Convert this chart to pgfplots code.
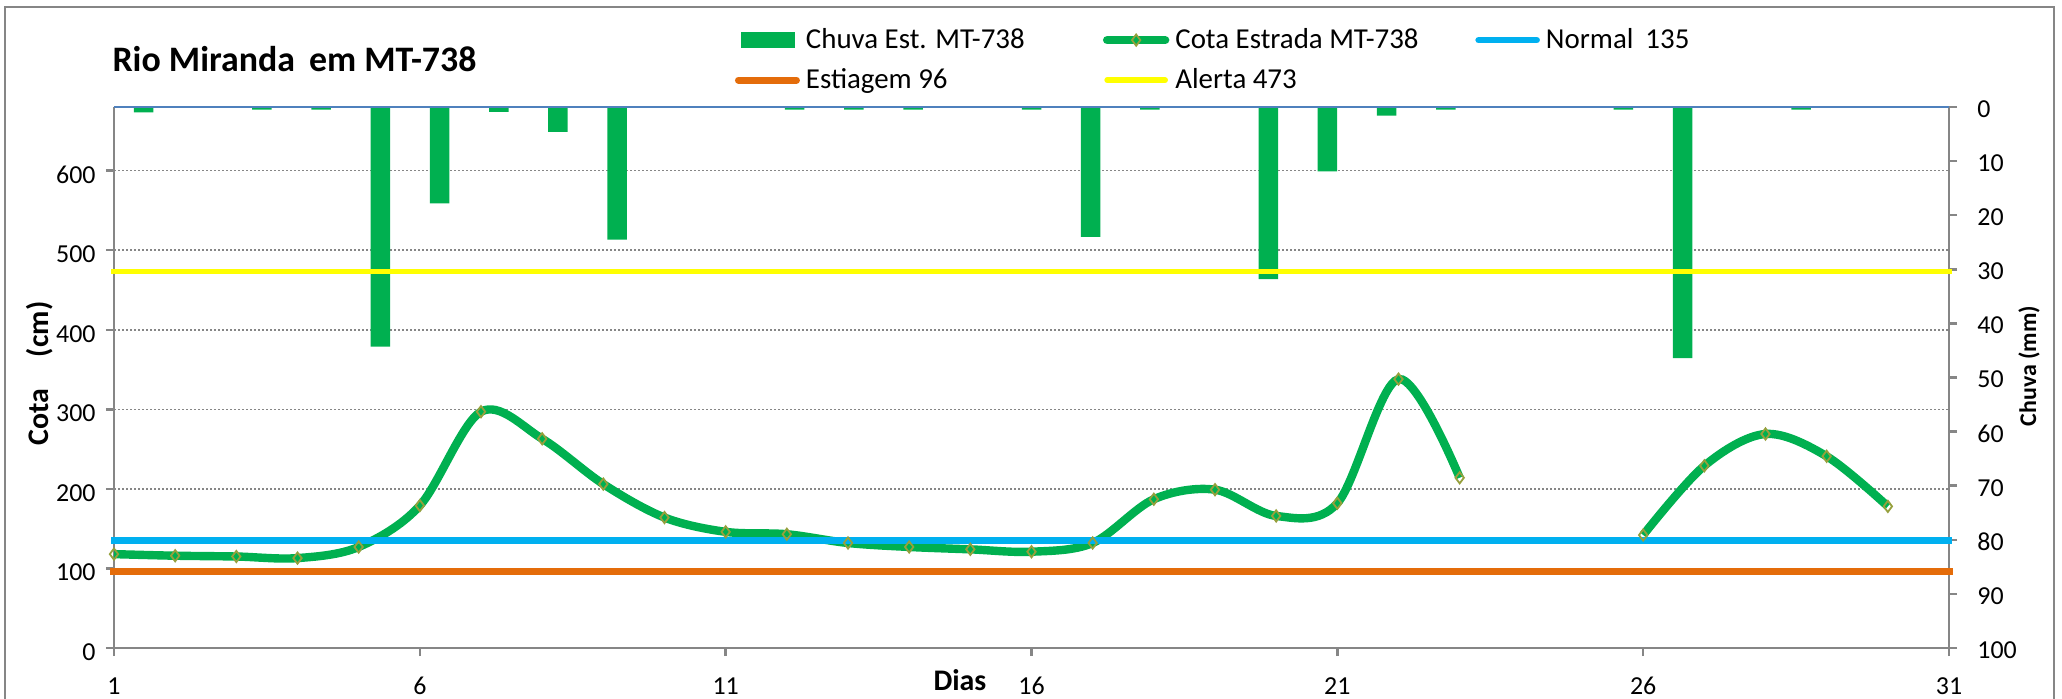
\documentclass[border=0pt]{standalone}
\usepackage{pgfplots}
\usepackage{pgfplotstable}
\pgfplotsset{compat=1.18}
\usepackage{fontspec}
\setmainfont{Carlito}
\definecolor{bargreen}{RGB}{0,176,80}
\definecolor{linegreen}{RGB}{0,176,80}
\definecolor{normblue}{RGB}{0,176,240}
\definecolor{estorange}{RGB}{228,108,10}
\definecolor{alertyellow}{RGB}{255,255,0}
\definecolor{axisgray}{RGB}{134,134,134}
\definecolor{topblue}{RGB}{79,129,189}
\definecolor{markolive}{RGB}{150,160,60}

\pgfplotstableread{
pos chuva
0.5 1.0
1.5 0
2.5 0.5
3.5 0.5
4.5 44.3
5.5 17.8
6.5 0.9
7.5 4.6
8.5 24.5
9.5 0
10.5 0
11.5 0.5
12.5 0.5
13.5 0.5
14.5 0
15.5 0.5
16.5 24.0
17.5 0.5
18.5 0
19.5 31.8
20.5 11.9
21.5 1.6
22.5 0.5
23.5 0
24.5 0
25.5 0.5
26.5 46.4
27.5 0
28.5 0.5
29.5 0
30.5 0
}\chuvatable

\pgfplotstableread{
day cota
1 118
2 116
3 115
4 113
5 127
6 179
7 297
8 263
9 206
10 164
11 146
12 143
13 132
14 127
15 124
16 121
17 132
18 187
19 199
20 166
21 182
22 338
23 214
24 nan
25 nan
26 142
27 229
28 269
29 241
30 178
}\cotatable

\pgfplotsset{
  /pgf/number format/assume math mode=true,
  myaxis/.style={at={(57bp,25.5bp)}, anchor=south west, scale only axis,
    width=917.5bp, height=270.5bp},
  ticklbl/.style={font=\fontsize{13}{15}\selectfont},
  linelegend/.style={legend image code/.code={\draw[##1, line cap=round] (0bp,0bp) -- (29bp,0bp);}},
  barlegend/.style={legend image code/.code={\fill[bargreen] (1.3bp,-3.85bp) rectangle (27.8bp,3.85bp);}},
  cotalegend/.style={legend image code/.code={\draw[##1, line cap=round, mark repeat=2, mark phase=2] plot coordinates {(0bp,0bp) (14.5bp,0bp) (29bp,0bp)};}},
}

\begin{document}
\begin{tikzpicture}
\useasboundingbox (0bp,0bp) rectangle (1031bp,349.5bp);
\draw[axisgray, line width=1bp] (2.5bp,346bp) rectangle (1027bp,-10bp);

% grid only
\begin{axis}[myaxis,
  xmin=1, xmax=31, ymin=0, ymax=680,
  xtick=\empty, ytick={100,200,...,600}, yticklabels={},
  ymajorgrids, grid style={axisgray, line width=0.75bp, dash pattern=on 1bp off 1bp},
  axis line style={draw=none}, major tick length=0pt]
\end{axis}

% bars, secondary axis
\begin{axis}[myaxis,
  xmin=0, xmax=31, ymin=0, ymax=100, y dir=reverse,
  axis y line*=right, axis x line=none,
  ytick={0,10,...,100},
  tick align=outside, major tick length=4bp,
  y axis line style={axisgray, line width=1.25bp, -},
  ytick style={axisgray, line width=1.25bp},
  yticklabel style={ticklbl, anchor=west, inner sep=0pt, xshift=10bp, yshift=-1bp},
  ylabel={Chuva (mm)},
  ylabel style={font=\fontsize{12}{14}\selectfont\bfseries, at={(axis description cs:1.0436,0.521)}, anchor=center, inner sep=0pt},
  ybar, bar width=9.75bp]
\addplot[fill=bargreen, draw=none] table[x=pos, y=chuva] {\chuvatable};
\end{axis}

% main axis
\begin{axis}[myaxis,
  xmin=1, xmax=31, ymin=0, ymax=680,
  axis x line*=bottom, axis y line*=left,
  xtick={1,6,...,31}, ytick={0,100,...,600},
  tick align=outside, major tick length=4bp,
  axis line style={axisgray, line width=1.25bp, -},
  tick style={axisgray, line width=1.25bp},
  xticklabel style={ticklbl, anchor=north, inner sep=0pt, yshift=-10.5bp},
  yticklabel style={ticklbl, anchor=east, inner sep=0pt, xshift=-5bp, yshift=-2bp},
  xlabel={Dias},
  xlabel style={font=\fontsize{15}{18}\selectfont\bfseries, at={(axis description cs:0.461,-0.079)}, anchor=base, inner sep=0pt},
  ylabel={Cota\hspace{16bp}(cm)},
  ylabel style={font=\fontsize{15}{18}\selectfont\bfseries, at={(axis description cs:-0.0403,0.507)}, anchor=center, inner sep=0pt},
  title={Rio Miranda\hspace{7bp}em MT-738},
  title style={font=\fontsize{18}{21}\selectfont\bfseries, at={(axis description cs:-0.001,1.043)}, anchor=base west, inner sep=0pt},
  clip=false,
  unbounded coords=jump,
  legend columns=3,
  legend cell align=left,
  legend style={at={(axis description cs:0.3384,1.1468)}, anchor=north west,
    draw=none, fill=none, inner sep=0pt, outer sep=0pt,
    font=\fontsize{14.5}{17}\selectfont, row sep=7.5bp,
    nodes={inner sep=0.5bp},
    /tikz/every odd column/.style={column sep=2.5bp}},
  linelegend
  ]
\addlegendimage{barlegend}
\addlegendentry{\makebox[148bp][l]{Chuva Est. MT-738}}
\addplot[linegreen, line width=4.2bp, smooth, tension=0.55,
  mark=diamond, mark size=2.8bp,
  mark options={draw=markolive, fill=linegreen, line width=0.9bp, solid},
  cotalegend]
  table[x=day, y=cota] {\cotatable};
\addlegendentry{\makebox[149.5bp][l]{Cota Estrada MT-738}}
\addplot[normblue, line width=3.3bp, line cap=rect] coordinates {(1,135) (31,135)};
\addlegendentry{Normal\hspace{6bp}135}
\addplot[estorange, line width=3.5bp, line cap=rect] coordinates {(1,96) (31,96)};
\addlegendentry{\makebox[148bp][l]{Estiagem 96}}
\addplot[alertyellow, line width=2.8bp, line cap=rect] coordinates {(1,473) (31,473)};
\addlegendentry{Alerta 473}
\draw[topblue, line width=1.25bp] (rel axis cs:0,1) -- (rel axis cs:1,1);
\end{axis}
\end{tikzpicture}
\end{document}
